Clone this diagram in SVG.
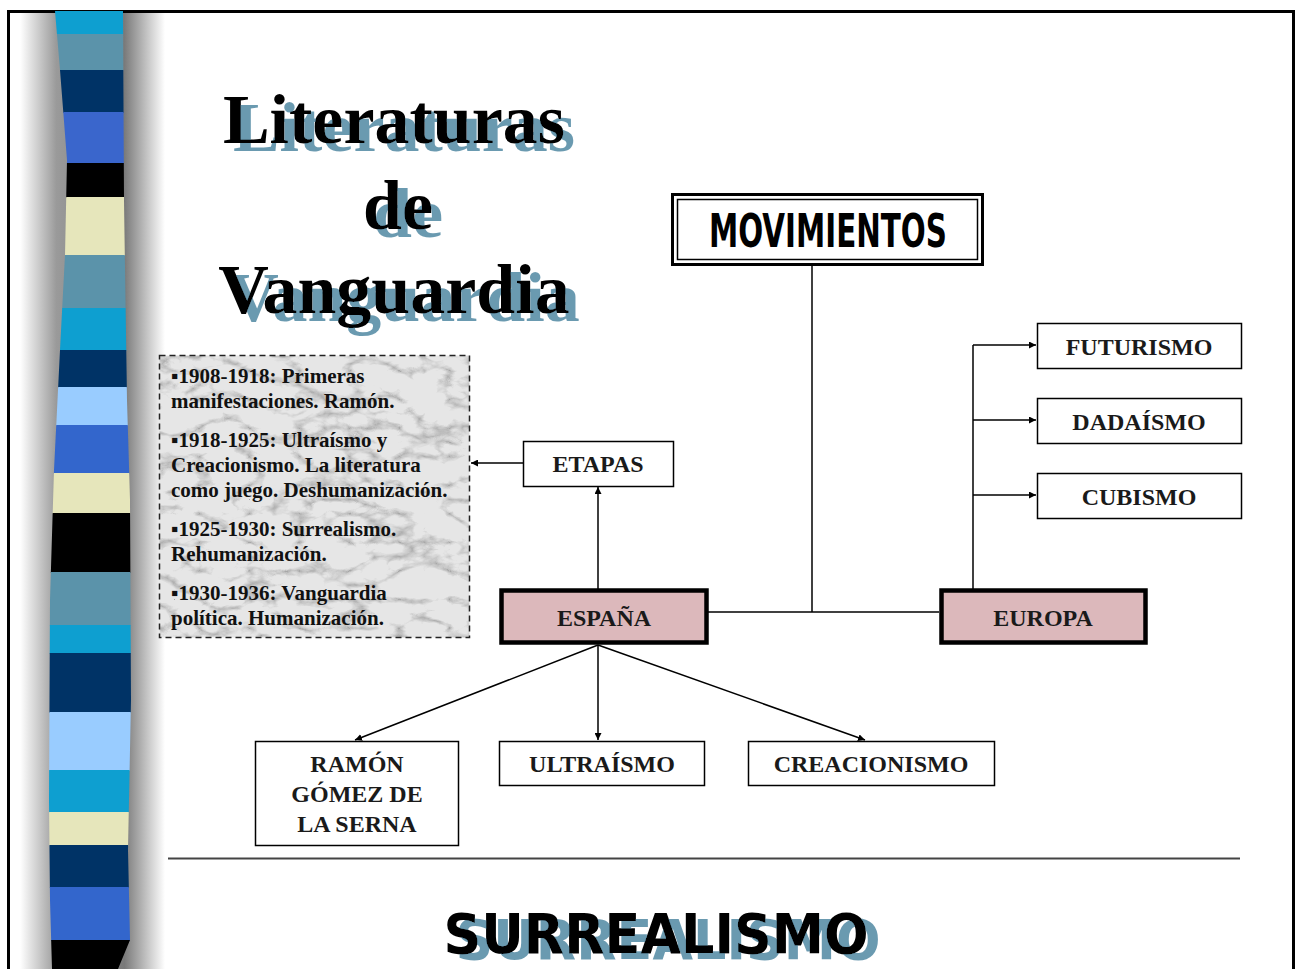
<svg xmlns="http://www.w3.org/2000/svg" width="1296" height="969" viewBox="0 0 1296 969">
<style>
.box{fill:#fff;stroke:#000;stroke-width:1.5}
.thick{fill:#dcb8bb;stroke:#000;stroke-width:4.5}
.lbl{font-family:"Liberation Serif","Times New Roman",serif;font-size:24px;font-weight:bold;fill:#1a1a1a;text-anchor:middle}
.et{font-family:"Liberation Serif","Times New Roman",serif;font-size:21px;font-weight:bold;fill:#111}
.title{font-family:"Liberation Serif","Times New Roman",serif;font-size:70px;font-weight:bold;text-anchor:middle;fill:#000;filter:url(#tshadow)}
.conn{fill:none;stroke:#000;stroke-width:1.5}
</style>
<defs>
<marker id="ah" viewBox="0 0 10 10" refX="10" refY="5" markerWidth="7" markerHeight="7" markerUnits="userSpaceOnUse" orient="auto">
<path d="M0,0 L10,5 L0,10 z" fill="#000"/>
</marker>
<filter id="tshadow" x="-10%" y="-20%" width="130%" height="150%">
<feFlood flood-color="#6b9ab0" result="f"/>
<feComposite in="f" in2="SourceAlpha" operator="in" result="s"/>
<feOffset in="s" dx="10" dy="8" result="so"/>
<feMerge><feMergeNode in="so"/><feMergeNode in="SourceGraphic"/></feMerge>
</filter>
<filter id="sshadow" x="-10%" y="-20%" width="130%" height="150%">
<feFlood flood-color="#6b9ab0" result="f"/>
<feComposite in="f" in2="SourceAlpha" operator="in" result="s"/>
<feOffset in="s" dx="12" dy="6" result="so"/>
<feMerge><feMergeNode in="so"/><feMergeNode in="SourceGraphic"/></feMerge>
</filter>
<linearGradient id="shade" x1="0" y1="0" x2="1" y2="0">
<stop offset="0" stop-color="#fff"/>
<stop offset="0.25" stop-color="#9a9a9a"/>
<stop offset="0.72" stop-color="#7a7a7a"/>
<stop offset="1" stop-color="#fff"/>
</linearGradient>
<clipPath id="barclip">
<polygon points="55,11 123,11 124,200 127,400 130,500 131,700 128,850 130,940 118,969 52,969 50,900 49,800 50,600 54,470 60,350 65,255 67,160 60,70"/>
</clipPath>
<filter id="marble" x="0" y="0" width="100%" height="100%">
<feTurbulence type="turbulence" baseFrequency="0.02 0.035" numOctaves="4" seed="11" result="t"/>
<feColorMatrix in="t" type="matrix" values="0 0 0 0 0  0 0 0 0 0  0 0 0 0 0  -2.6 0 0 0 0.75" result="v"/>
<feFlood flood-color="#8a8a8a" result="c"/>
<feComposite in="c" in2="v" operator="in" result="veins"/>
<feFlood flood-color="#e6e6e6" result="bg"/>
<feMerge><feMergeNode in="bg"/><feMergeNode in="veins"/></feMerge>
<feComposite in2="SourceGraphic" operator="in"/>
</filter>
</defs>
<rect width="1296" height="969" fill="#fff"/>
<rect x="8.5" y="11.5" width="1285" height="970" fill="none" stroke="#000" stroke-width="3"/>

<g id="stripes">
<rect x="20" y="13" width="145" height="956" fill="url(#shade)"/>
<g clip-path="url(#barclip)">
<rect x="40" y="11" width="100" height="24" fill="#0e9fd0"/>
<rect x="40" y="34" width="100" height="37" fill="#5b93aa"/>
<rect x="40" y="70" width="100" height="43" fill="#003366"/>
<rect x="40" y="112" width="100" height="52" fill="#3a66cc"/>
<rect x="40" y="163" width="100" height="35" fill="#000"/>
<rect x="40" y="197" width="100" height="59" fill="#e6e6bb"/>
<rect x="40" y="255" width="100" height="54" fill="#5b93aa"/>
<rect x="40" y="308" width="100" height="43" fill="#0e9fd0"/>
<rect x="40" y="350" width="100" height="38" fill="#003366"/>
<rect x="40" y="387" width="100" height="39" fill="#99ccff"/>
<rect x="40" y="425" width="100" height="49" fill="#3366cc"/>
<rect x="40" y="473" width="100" height="41" fill="#e6e6bb"/>
<rect x="40" y="513" width="100" height="60" fill="#000"/>
<rect x="40" y="572" width="100" height="54" fill="#5b93aa"/>
<rect x="40" y="625" width="100" height="29" fill="#0e9fd0"/>
<rect x="40" y="653" width="100" height="60" fill="#003366"/>
<rect x="40" y="712" width="100" height="59" fill="#99ccff"/>
<rect x="40" y="770" width="100" height="43" fill="#0e9fd0"/>
<rect x="40" y="812" width="100" height="34" fill="#e6e6bb"/>
<rect x="40" y="845" width="100" height="43" fill="#003366"/>
<rect x="40" y="887" width="100" height="54" fill="#3366cc"/>
<rect x="40" y="940" width="100" height="29" fill="#000"/>
</g>
</g>

<g id="title">
<text class="title" x="394" y="143">Literaturas</text>
<text class="title" x="398" y="229">de</text>
<text class="title" x="394" y="313">Vanguardia</text>
</g>

<g id="connectors">
<path class="conn" d="M812,266 V612"/>
<path class="conn" d="M707,612 H939"/>
<path class="conn" d="M598,589 V487" marker-end="url(#ah)"/>
<path class="conn" d="M523,463 H471" marker-end="url(#ah)"/>
<path class="conn" d="M598,645 L355,740" marker-end="url(#ah)"/>
<path class="conn" d="M598,645 V740" marker-end="url(#ah)"/>
<path class="conn" d="M598,645 L865,740" marker-end="url(#ah)"/>
<path class="conn" d="M973,589 V345"/>
<path class="conn" d="M973,345 H1036" marker-end="url(#ah)"/>
<path class="conn" d="M973,420 H1036" marker-end="url(#ah)"/>
<path class="conn" d="M973,495 H1036" marker-end="url(#ah)"/>
</g>

<g id="movimientos">
<rect x="672.5" y="194.5" width="310" height="70" fill="#fff" stroke="#000" stroke-width="3"/>
<rect x="677.5" y="199.5" width="300" height="60" fill="none" stroke="#000" stroke-width="1.5"/>
<text x="828" y="247" font-family="'DejaVu Sans Condensed','Liberation Sans Narrow','Liberation Sans',sans-serif" font-weight="bold" font-size="47" text-anchor="middle" textLength="238" lengthAdjust="spacingAndGlyphs">MOVIMIENTOS</text>
</g>

<g id="etapas-text">
<rect x="159.5" y="355.5" width="310" height="282" fill="#ddd" filter="url(#marble)"/>
<rect x="159.5" y="355.5" width="310" height="282" fill="none" stroke="#222" stroke-width="1.5" stroke-dasharray="6,4"/>
<text class="et" x="171" y="383">▪1908-1918: Primeras</text>
<text class="et" x="171" y="408">manifestaciones. Ramón.</text>
<text class="et" x="171" y="447">▪1918-1925: Ultraísmo y</text>
<text class="et" x="171" y="472">Creacionismo. La literatura</text>
<text class="et" x="171" y="497">como juego. Deshumanización.</text>
<text class="et" x="171" y="536">▪1925-1930: Surrealismo.</text>
<text class="et" x="171" y="561">Rehumanización.</text>
<text class="et" x="171" y="600">▪1930-1936: Vanguardia</text>
<text class="et" x="171" y="625">política. Humanización.</text>
</g>

<g id="etapas">
<rect class="box" x="523.5" y="441.5" width="150" height="45"/>
<text class="lbl" x="598" y="472">ETAPAS</text>
</g>

<g id="espana">
<rect class="thick" x="501.5" y="590.5" width="205" height="52"/>
<text class="lbl" x="604" y="626" font-size="26">ESPAÑA</text>
</g>

<g id="europa">
<rect class="thick" x="941.5" y="590.5" width="204" height="52"/>
<text class="lbl" x="1043" y="626" font-size="26">EUROPA</text>
</g>

<g id="futurismo">
<rect class="box" x="1037.5" y="323.5" width="204" height="45"/>
<text class="lbl" x="1139" y="355">FUTURISMO</text>
</g>
<g id="dadaismo">
<rect class="box" x="1037.5" y="398.5" width="204" height="45"/>
<text class="lbl" x="1139" y="430">DADAÍSMO</text>
</g>
<g id="cubismo">
<rect class="box" x="1037.5" y="473.5" width="204" height="45"/>
<text class="lbl" x="1139" y="505">CUBISMO</text>
</g>

<g id="ramon">
<rect class="box" x="255.5" y="741.5" width="203" height="104"/>
<text class="lbl" x="357" y="772">RAMÓN</text>
<text class="lbl" x="357" y="802">GÓMEZ DE</text>
<text class="lbl" x="357" y="832">LA SERNA</text>
</g>
<g id="ultraismo">
<rect class="box" x="499.5" y="741.5" width="205" height="44"/>
<text class="lbl" x="602" y="772">ULTRAÍSMO</text>
</g>
<g id="creacionismo">
<rect class="box" x="748.5" y="741.5" width="246" height="44"/>
<text class="lbl" x="871" y="772">CREACIONISMO</text>
</g>

<line x1="168" y1="858.5" x2="1240" y2="858.5" stroke="#444" stroke-width="2"/>

<g id="surrealismo">
<text x="656" y="953" font-family="'DejaVu Sans',sans-serif" font-weight="bold" font-size="56" text-anchor="middle" fill="#000" filter="url(#sshadow)" textLength="425" lengthAdjust="spacingAndGlyphs">SURREALISMO</text>
</g>
</svg>
